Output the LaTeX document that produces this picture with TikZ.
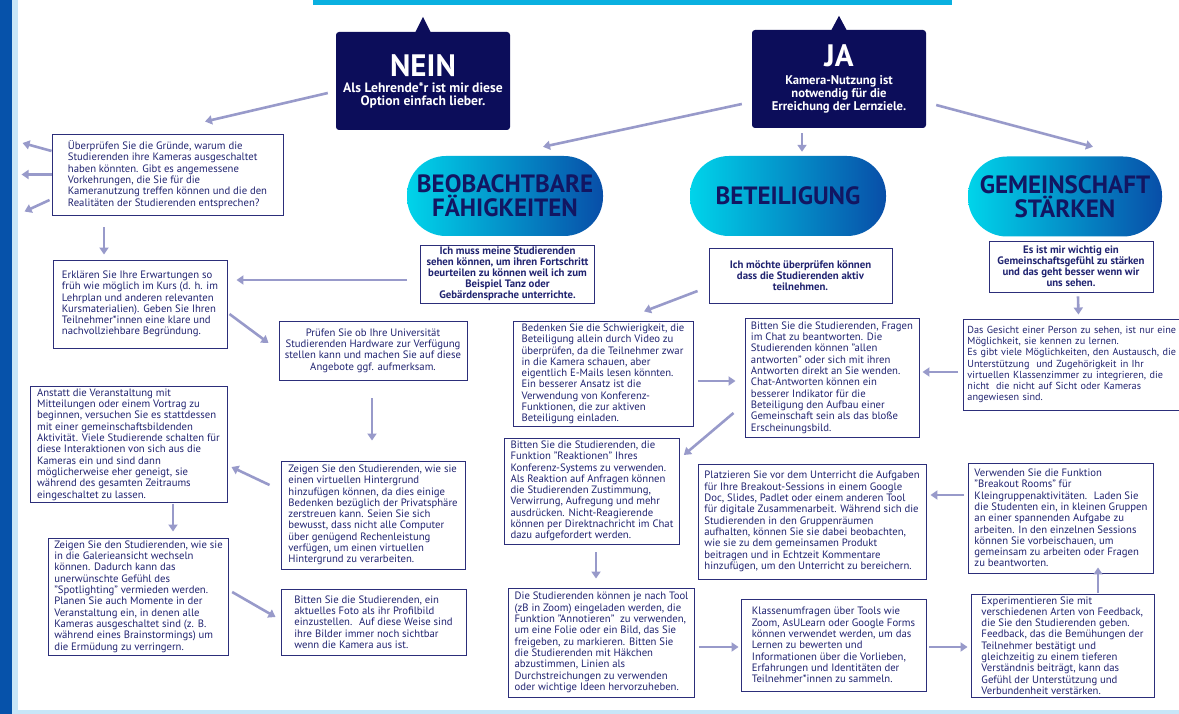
\documentclass[tikz,border=0pt]{standalone}
\usepackage{fontspec}
\setmainfont{PT Sans}
\usetikzlibrary{arrows.meta}
\definecolor{navy}{RGB}{12,13,90}
\definecolor{navytext}{RGB}{32,35,112}
\definecolor{boxline}{RGB}{44,46,122}
\definecolor{arrowc}{RGB}{152,154,202}
\definecolor{pillleft}{RGB}{0,212,234}
\definecolor{pillright}{RGB}{8,78,168}
\definecolor{pilltext}{RGB}{18,22,98}
\definecolor{topcyan}{RGB}{10,176,224}
\definecolor{bandblue}{RGB}{6,82,170}
\definecolor{bandlight}{RGB}{200,230,248}
\newcommand{\bodyfont}{\fontsize{10.7}{11.3}\selectfont}
\newcommand{\questfont}{\bfseries\fontsize{10.8}{11}\selectfont}
\newcommand{\bigword}[1]{{\fontsize{31}{31}\selectfont #1}}
\tikzset{>={Triangle[length=7pt,width=9pt]}}
\tikzset{
  arr/.style={->,line width=2.6pt,arrowc},
  hint/.style={draw=boxline,line width=0.9pt,text=navytext,font=\bodyfont,align=left,inner xsep=6pt,inner ysep=2pt},
  quest/.style={hint,font=\questfont,align=center},
  answer/.style={fill=navy,rounded corners=3pt,text=white,align=center,minimum width=174pt,minimum height=98pt,inner sep=2pt},
  topic/.style={rounded corners=39pt,left color=pillleft,right color=pillright,text=pilltext,font=\bfseries\fontsize{25}{24}\selectfont,align=center,minimum width=196pt,minimum height=80pt}
}

\begin{document}
\begin{tikzpicture}[x=1pt,y=-1pt]
\useasboundingbox (0,0) rectangle (1179,714);
\clip (0,0) rectangle (1179,714);
\fill[bandblue] (0,0) rectangle (12,714);
\fill[bandlight] (12,0) rectangle (18,714);
\fill[bandlight] (18,710) rectangle (1179,714);
\fill[topcyan] (313,0) rectangle (952,5);

\node[answer,font=\bfseries\fontsize{13.6}{13}\selectfont] (nein) at (423,81) {\bigword{NEIN}\\[3pt]Als Lehrende*r ist mir diese\\Option einfach lieber.};
\node[answer,font=\bfseries\fontsize{12.6}{13}\selectfont] (ja) at (839,79) {\bigword{JA}\\[5pt]Kamera-Nutzung ist\\notwendig für die\\Erreichung der Lernziele.};
\fill[navy] ([shift={(-8,1)}]nein.north) -- ([shift={(0,-15)}]nein.north) -- ([shift={(8,1)}]nein.north) -- cycle;
\fill[navy] ([shift={(-8,1)}]ja.north) -- ([shift={(0,-14)}]ja.north) -- ([shift={(8,1)}]ja.north) -- cycle;

\node[topic] (observe) at (505,196) {BEOBACHTBARE\\FÄHIGKEITEN};
\node[topic] (engage) at (788,196) {BETEILIGUNG};
\node[topic,minimum width=194pt] (community) at (1065,196.5) {GEMEINSCHAFT\\STÄRKEN};

\node[quest,minimum width=169pt,minimum height=58pt] (needsee) at (507.5,274) {Ich muss meine Studierenden\\sehen können, um ihren Fortschritt\\beurteilen zu können weil ich zum\\Beispiel Tanz oder\\Gebärdensprache unterrichte.};
\node[quest,minimum width=183pt,minimum height=55pt] (checkactive) at (800.5,275.5) {Ich möchte überprüfen können\\dass die Studierenden aktiv\\teilnehmen.};
\node[quest,minimum width=164pt,minimum height=51pt] (belong) at (1071,266.5) {Es ist mir wichtig ein\\Gemeinschaftsgefühl zu stärken\\und das geht besser wenn wir\\uns sehen.};

\node[hint,minimum width=231pt,minimum height=81pt] (cause) at (167.5,174.5) {Überprüfen Sie die Gründe, warum die\\Studierenden ihre Kameras ausgeschaltet\\haben könnten. Gibt es angemessene\\Vorkehrungen, die Sie für die\\Kameranutzung treffen können und die den\\Realitäten der Studierenden entsprechen?};
\node[hint,minimum width=174pt,minimum height=88pt] (expect) at (140,304) {Erklären Sie Ihre Erwartungen so\\früh wie möglich im Kurs (d. h. im\\Lehrplan und anderen relevanten\\Kursmaterialien). Geben Sie Ihren\\Teilnehmer*innen eine klare und\\nachvollziehbare Begründung.};
\node[hint,align=center,minimum width=184pt,minimum height=59pt] (hardware) at (373,350.5) {Prüfen Sie ob Ihre Universität\\Studierenden Hardware zur Verfügung\\stellen kann und machen Sie auf diese\\Angebote ggf. aufmerksam.};
\node[hint,minimum width=197pt,minimum height=115pt] (opening) at (128.5,444.5) {Anstatt die Veranstaltung mit\\Mitteilungen oder einem Vortrag zu\\beginnen, versuchen Sie es stattdessen\\mit einer gemeinschaftsbildenden\\Aktivität. Viele Studierende schalten für\\diese Interaktionen von sich aus die\\Kameras ein und sind dann\\möglicherweise eher geneigt, sie\\während des gesamten Zeitraums\\eingeschaltet zu lassen.};
\node[hint,minimum width=184pt,minimum height=108pt] (background) at (373,515) {Zeigen Sie den Studierenden, wie sie\\einen virtuellen Hintergrund\\hinzufügen können, da dies einige\\Bedenken bezüglich der Privatsphäre\\zerstreuen kann. Seien Sie sich\\bewusst, dass nicht alle Computer\\über genügend Rechenleistung\\verfügen, um einen virtuellen\\Hintergrund zu verarbeiten.};
\node[hint,minimum width=175pt,minimum height=117pt] (gallery) at (138.5,596.5) {Zeigen Sie den Studierenden, wie sie\\in die Galerieansicht wechseln\\können. Dadurch kann das\\unerwünschte Gefühl des\\"Spotlighting" vermieden werden.\\Planen Sie auch Momente in der\\Veranstaltung ein, in denen alle\\Kameras ausgeschaltet sind (z. B.\\während eines Brainstormings) um\\die Ermüdung zu verringern.};
\node[hint,minimum width=185pt,minimum height=66pt] (photo) at (373.5,622) {Bitten Sie die Studierenden, ein\\aktuelles Foto als ihr Profilbild\\einzustellen.~ Auf diese Weise sind\\ihre Bilder immer noch sichtbar\\wenn die Kamera aus ist.};

\node[hint,minimum width=180pt,minimum height=104pt] (doubt) at (603,374) {Bedenken Sie die Schwierigkeit, die\\Beteiligung allein durch Video zu\\überprüfen, da die Teilnehmer zwar\\in die Kamera schauen, aber\\eigentlich E-Mails lesen könnten.\\Ein besserer Ansatz ist die\\Verwendung von Konferenz-\\Funktionen, die zur aktiven\\Beteiligung einladen.};
\node[hint,minimum width=168pt,minimum height=119pt] (chat) at (832,377.5) {Bitten Sie die Studierenden, Fragen\\im Chat zu beantworten. Die\\Studierenden können "allen\\antworten" oder sich mit ihren\\Antworten direkt an Sie wenden.\\Chat-Antworten können ein\\besserer Indikator für die\\Beteiligung den Aufbau einer\\Gemeinschaft sein als das bloße\\Erscheinungsbild.};
\node[hint,minimum width=174pt,minimum height=106pt] (reactions) at (592,491) {Bitten Sie die Studierenden, die\\Funktion "Reaktionen" Ihres\\Konferenz-Systems zu verwenden.\\Als Reaktion auf Anfragen können\\die Studierenden Zustimmung,\\Verwirrung, Aufregung und mehr\\ausdrücken. Nicht-Reagierende\\können per Direktnachricht im Chat\\dazu aufgefordert werden.};
\node[hint,minimum width=185pt,minimum height=109pt] (annotate) at (601.5,642.5) {Die Studierenden können je nach Tool\\(zB in Zoom) eingeladen werden, die\\Funktion "Annotieren"~ zu verwenden,\\um eine Folie oder ein Bild, das Sie\\freigeben, zu markieren. Bitten Sie\\die Studierenden mit Häkchen\\abzustimmen, Linien als\\Durchstreichungen zu verwenden\\oder wichtige Ideen hervorzuheben.};
\node[hint,minimum width=228pt,minimum height=115pt] (breakout) at (812,521.5) {Platzieren Sie vor dem Unterricht die Aufgaben\\für Ihre Breakout-Sessions in einem Google\\Doc, Slides, Padlet oder einem anderen Tool\\für digitale Zusammenarbeit. Während sich die\\Studierenden in den Gruppenräumen\\aufhalten, können Sie sie dabei beobachten,\\wie sie zu dem gemeinsamen Produkt\\beitragen und in Echtzeit Kommentare\\hinzufügen, um den Unterricht zu bereichern.};
\node[hint,minimum width=185pt,minimum height=92pt] (polls) at (833.5,645) {Klassenumfragen über Tools wie\\Zoom, AsULearn oder Google Forms\\können verwendet werden, um das\\Lernen zu bewerten und\\Informationen über die Vorlieben,\\Erfahrungen und Identitäten der\\Teilnehmer*innen zu sammeln.};

\node[hint,anchor=west,font=\fontsize{10.2}{11.3}\selectfont,inner xsep=4pt,text width=212pt,minimum height=91pt] (faces) at (963,364.5) {Das Gesicht einer Person zu sehen, ist nur eine\\Möglichkeit, sie kennen zu lernen.\\Es gibt viele Möglichkeiten, den Austausch, die\\Unterstützung~ und Zugehörigkeit in Ihr\\virtuellen Klassenzimmer zu integrieren, die\\nicht~ die nicht auf Sicht oder Kameras\\angewiesen sind.};
\node[hint,minimum width=184pt,minimum height=110pt] (rooms) at (1061,518) {Verwenden Sie die Funktion\\"Breakout Rooms" für\\Kleingruppenaktivitäten.~ Laden Sie\\die Studenten ein, in kleinen Gruppen\\an einer spannenden Aufgabe zu\\arbeiten. In den einzelnen Sessions\\können Sie vorbeischauen, um\\gemeinsam zu arbeiten oder Fragen\\zu beantworten.};
\node[hint,minimum width=183pt,minimum height=103pt] (feedback) at (1062.5,645.5) {Experimentieren Sie mit\\verschiedenen Arten von Feedback,\\die Sie den Studierenden geben.\\Feedback, das die Bemühungen der\\Teilnehmer bestätigt und\\gleichzeitig zu einem tieferen\\Verständnis beiträgt, kann das\\Gefühl der Unterstützung und\\Verbundenheit verstärken.};

\draw[arr] ([shift={(-8,12)}]nein.west) -- ([shift={(37.5,-12)}]cause.north);
\draw[arr] ([shift={(-10,25)}]ja.west) -- ([shift={(38,-9)}]observe.north);
\draw[arr] ([shift={(-37,5)}]ja.south) -- ([shift={(14,-4)}]engage.north);
\draw[arr] ([shift={(10,26)}]ja.east) -- ([shift={(28,-9.5)}]community.north);
\draw[arr] ([shift={(0,-23.5)}]cause.west) -- ([shift={(-29,-31.5)}]cause.west);
\draw[arr] (cause.west) -- ([shift={(-30,0)}]cause.west);
\draw[arr] ([shift={(-2,25.5)}]cause.west) -- ([shift={(-27,37)}]cause.west);
\draw[arr] ([shift={(-63.5,12)}]cause.south) -- ([shift={(-36,-5)}]expect.north);
\draw[arr] ([shift={(-13,6)}]needsee.west) -- ([shift={(9,-24)}]expect.east);
\draw[arr] ([shift={(2,10)}]expect.east) -- ([shift={(-10,-7.5)}]hardware.west);
\draw[arr] ([shift={(-1,18)}]hardware.south) -- ([shift={(-1,-20)}]background.north);
\draw[arr] ([shift={(-11,-30)}]background.west) -- ([shift={(4,22.5)}]opening.east);
\draw[arr] ([shift={(44.5,1)}]opening.south) -- ([shift={(34.5,-6)}]gallery.north);
\draw[arr] ([shift={(3,-4.5)}]gallery.east) -- ([shift={(-5,-5)}]photo.west);
\draw[arr] ([shift={(-11,15.5)}]checkactive.west) -- ([shift={(41,-10)}]doubt.north);
\draw[arr] ([shift={(5,7)}]doubt.east) -- ([shift={(-9,3.5)}]chat.west);
\draw[arr] ([shift={(-11,35.5)}]chat.west) -- ([shift={(4,-36)}]reactions.east);
\draw[arr] ([shift={(4,8)}]reactions.south) -- ([shift={(-5.5,-9)}]annotate.north);
\draw[arr] ([shift={(4,4.5)}]annotate.east) -- ([shift={(-2,2)}]polls.west);
\draw[arr] ([shift={(3,2)}]polls.east) -- ([shift={(-3,1.5)}]feedback.west);
\draw[arr] ([shift={(35.5,-1)}]feedback.north) -- ([shift={(37,-6)}]rooms.south);
\draw[arr] ([shift={(-4,-23)}]rooms.west) -- ([shift={(4,-26.5)}]breakout.east);
\draw[arr] ([shift={(-5,7.5)}]faces.west) -- ([shift={(3,-5.5)}]chat.east);
\draw[arr] ([shift={(7,4)}]belong.south) -- ([shift={(5,-4)}]faces.north);
\end{tikzpicture}
\end{document}
